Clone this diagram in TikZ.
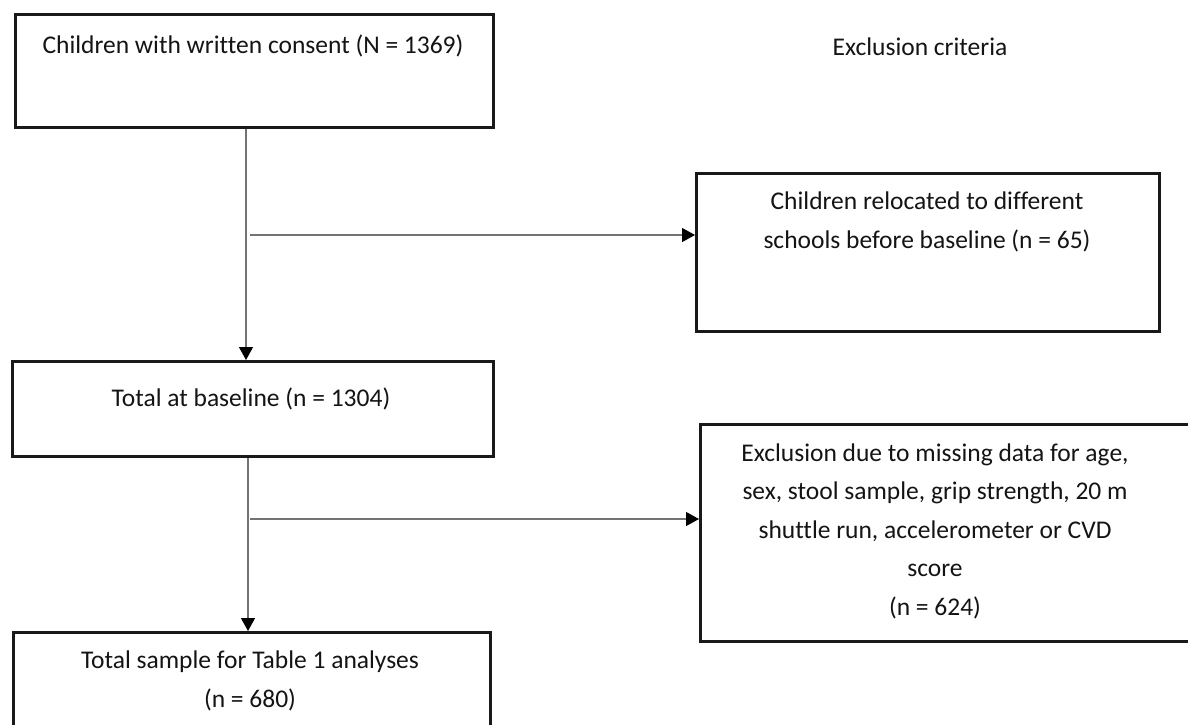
\documentclass[tikz,border=0pt]{standalone}
\usepackage{fontspec}
\setmainfont[Ligatures=NoCommon]{Carlito}
\usetikzlibrary{arrows.meta,calc}
\begin{document}
\begin{tikzpicture}[x=1pt,y=-1pt,
  box/.style={draw=black!90, line width=2.6pt, inner sep=0pt, anchor=north west, fill=white},
  txt/.style={font=\fontsize{25.5}{38.5}\selectfont, align=center, text=black!92, inner sep=0pt},
  conn/.style={draw=black!55, line width=1.2pt},
  arr/.style={conn, -{Triangle[length=13pt,width=14pt,black]}}]
\clip (0,0) rectangle (1188,724);
\fill[white] (0,0) rectangle (1188,724);
% boxes
\node[box, minimum width=478pt, minimum height=113pt] (b1) at (14,13) {};
\node[box, minimum width=481pt, minimum height=95pt] (b2) at (11,360) {};
\node[box, minimum width=477pt, minimum height=140pt] (b3) at (12,631) {};
\node[box, minimum width=463pt, minimum height=158pt] (r1) at (695,172) {};
\node[box, minimum width=540pt, minimum height=217pt] (r2) at (699,423) {};
% texts
\node[txt] (t1) at (253,46) {Children with written consent (N = 1369)};
\node[txt] (t2) at (251,399) {Total at baseline (n = 1304)};
\node[txt] (t3) at (250,681) {Total sample for Table 1 analyses\\(n = 680)};
\node[txt] (hd) at (920,47) {Exclusion criteria};
\node[txt] (tr1) at (927,222) {Children relocated to different\\schools before baseline (n = 65)};
\node[txt] (tr2) at (935,531) {Exclusion due to missing data for age,\\sex, stool sample, grip strength, 20 m\\shuttle run, accelerometer or CVD\\score\\(n = 624)};
% connectors
\coordinate (v1) at (246,0);
\draw[arr] (b1.south -| v1) -- (b2.north -| v1);
\coordinate (j1) at (250,235);
\draw[arr] (j1) -- (j1 -| r1.west);
\coordinate (s2) at (248,458);
\draw[arr] (s2) -- (s2 |- b3.north);
\coordinate (j2) at (250,519);
\draw[arr] (j2) -- (j2 -| r2.west);
\end{tikzpicture}
\end{document}
